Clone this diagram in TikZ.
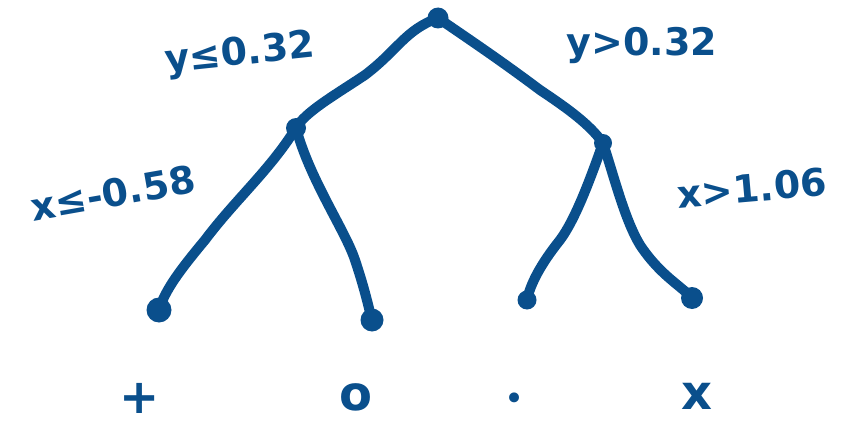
\documentclass[tikz,border=0pt]{standalone}
\usepackage{fontspec}
\setmainfont{DejaVu Sans}
\definecolor{ink}{RGB}{10,79,140}
\begin{document}
\begin{tikzpicture}[x=1pt,y=-1pt,
  edge/.style={draw=ink,line width=10pt,line cap=round,line join=round},
  dotnode/.style={circle,fill=ink,inner sep=0pt,minimum size=17pt},
  lab/.style={text=ink,font=\bfseries\fontsize{38}{44}\selectfont,inner sep=0pt},
  leaf/.style={text=ink,font=\bfseries\fontsize{48}{52}\selectfont,inner sep=0pt}]
\useasboundingbox (0,0) rectangle (849,428);
\node[dotnode,minimum size=21pt] (root) at (438,18) {};
\node[dotnode,minimum size=20pt] (L) at (296,128) {};
\node[dotnode,minimum size=18pt] (R) at (603,143) {};
\node[dotnode,minimum size=25pt] (l1) at (159,310) {};
\node[dotnode,minimum size=23pt] (l2) at (372,320) {};
\node[dotnode,minimum size=19pt] (l3) at (527,300) {};
\node[dotnode,minimum size=22pt] (l4) at (692,298) {};
\draw[edge] (root.center) .. controls (405,30) and (398,50) .. (365,75) .. controls (335,95) and (305,112) .. (L.center);
\draw[edge] (root.center) .. controls (470,40) and (500,60) .. (540,90) .. controls (570,110) and (590,125) .. (R.center);
\draw[edge] (L.center) .. controls (270,170) and (235,200) .. (205,240) .. controls (180,270) and (165,290) .. (l1.center);
\draw[edge] (L.center) .. controls (310,180) and (345,230) .. (355,260) .. controls (365,290) and (368,305) .. (l2.center);
\draw[edge] (R.center) .. controls (590,180) and (575,220) .. (560,240) .. controls (540,265) and (530,285) .. (l3.center);
\draw[edge] (R.center) .. controls (615,180) and (625,220) .. (640,245) .. controls (660,275) and (680,285) .. (l4.center);
\node[lab,rotate=6] (t1) at (240,55) {y≤0.32};
\node[lab] (t2) at (642,45) {y>0.32};
\node[lab,rotate=10] (t3) at (113,193) {x≤-0.58};
\node[lab,rotate=5] (t4) at (752,188) {x>1.06};
\node[leaf] (s1) at (140,398) {+};
\node[leaf] (s2) at (356,397) {o};
\node[leaf,font=\fontsize{34}{38}\selectfont] (s3) at (515,402) {•};
\node[leaf] (s4) at (697,396) {x};
\end{tikzpicture}
\end{document}
